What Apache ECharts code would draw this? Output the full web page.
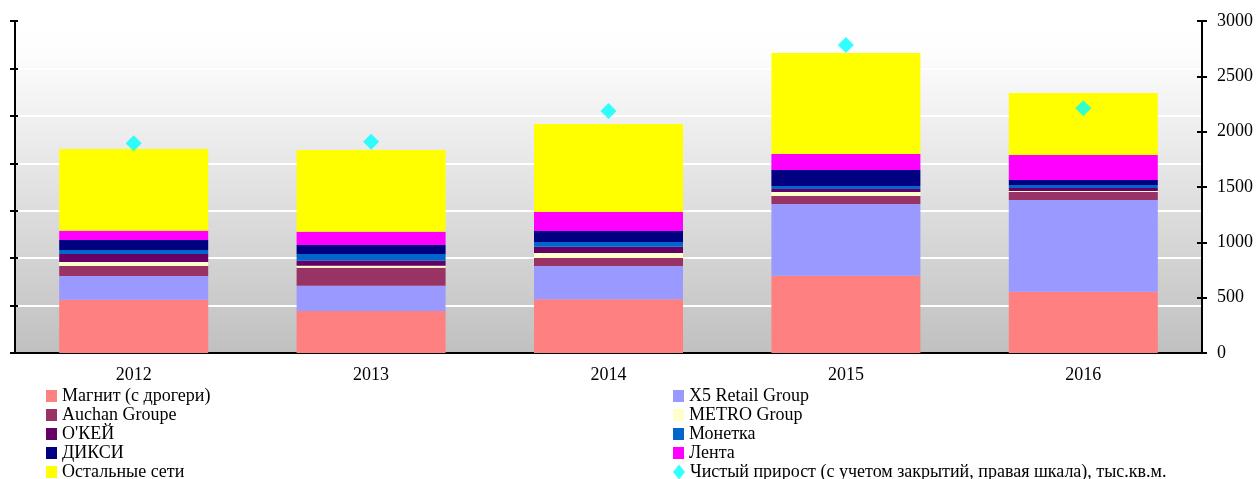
<!DOCTYPE html>
<html>
<head>
<meta charset="utf-8">
<script src="https://cdn.jsdelivr.net/npm/echarts@6/dist/echarts.min.js"></script>
<style>
  html, body { margin: 0; padding: 0; background: #fff; }
  #chart { width: 1258px; height: 479px; }
</style>
</head>
<body>
<div id="chart"></div>
<script>
// Ввод торговых площадей по сетям, тыс. кв. м
const years = ['2012', '2013', '2014', '2015', '2016']
const magnit = [562, 443, 566, 815, 646]
const x5 = [250, 267, 351, 756, 967]
const auchan = [105, 189, 84, 84, 84]
const metro = [42, 21, 53, 42, 11]
const okey = [85, 53, 67, 32, 31]
const monetka = [42, 71, 49, 31, 32]
const dixy = [105, 95, 116, 169, 53]
const lenta = [98, 140, 200, 169, 263]
const others = [862, 861, 928, 1065, 654]
const netGrowth = [1895, 1909, 2187, 2783, 2211]
const rightTicks = [0, 500, 1000, 1500, 2000, 2500, 3000]

const netName = 'Чистый прирост (с учетом закрытий, правая шкала), тыс.кв.м.'
const leftLegend = ['Магнит (с дрогери)', 'Auchan Groupe', "О'КЕЙ", 'ДИКСИ', 'Остальные сети']
const rightLegend = ['X5 Retail Group', 'METRO Group', 'Монетка', 'Лента', netName]

const font = 'Liberation Serif'
const chart = echarts.init(document.getElementById('chart'))

function bar(name, data, color) {
    return {
        name: name,
        type: 'bar',
        stack: 'total',
        data: data,
        barWidth: 149,
        itemStyle: { color: color },
    }
}

// одна легенда на строку, чтобы колонки не переносились
function legendItem(name, left, row) {
    const isNet = name === netName
    return {
        left: left,
        top: 387 + row * 19,
        itemWidth: isNet ? 12 : 11,
        itemHeight: isNet ? 15 : 12,
        padding: 0,
        textStyle: { fontFamily: font, fontSize: 18, color: '#000' },
        data: [{ name: name, icon: isNet ? 'diamond' : 'rect' }],
    }
}

const legends = []
leftLegend.forEach((n, i) => legends.push(legendItem(n, 46, i)))
rightLegend.forEach((n, i) => legends.push(legendItem(n, 673, i)))

const option = {
    animation: false,
    backgroundColor: '#fff',
    grid: {
        left: 15,
        right: 56,
        top: 21,
        bottom: 126,
        show: true,
        borderWidth: 0,
        backgroundColor: new echarts.graphic.LinearGradient(0, 0, 0, 1, [
            { offset: 0, color: '#ffffff' },
            { offset: 0.1, color: '#fdfdfd' },
            { offset: 1, color: '#c0c0c0' },
        ]),
    },
    legend: legends,
    xAxis: {
        type: 'category',
        data: years,
        axisLine: { lineStyle: { color: '#000', width: 2 } },
        axisTick: { length: 6, lineStyle: { color: '#000', width: 2 } },
        axisLabel: { fontFamily: font, fontSize: 18, color: '#000', margin: 13 },
    },
    yAxis: [
        {
            type: 'value',
            position: 'left',
            min: 0,
            max: 3500,
            interval: 500,
            axisLine: { show: true, lineStyle: { color: '#000', width: 2 } },
            axisTick: { show: true, length: 5, lineStyle: { color: '#000', width: 2 } },
            axisLabel: { show: false },
            splitLine: { show: true, lineStyle: { color: '#ffffff', width: 2 } },
        },
        {
            type: 'value',
            position: 'right',
            min: 0,
            max: 3000,
            interval: 500,
            axisLine: { show: true, lineStyle: { color: '#000', width: 2 } },
            axisTick: { show: true, length: 5, lineStyle: { color: '#000', width: 2 } },
            axisLabel: {
                fontFamily: font, fontSize: 18, color: '#000', margin: 15,
                formatter: v => rightTicks.includes(v) ? String(v) : '',
            },
            splitLine: { show: false },
        },
        // засечки внутрь для левой и правой шкал
        {
            type: 'value',
            position: 'left',
            min: 0,
            max: 3500,
            interval: 500,
            axisLine: { show: false },
            axisTick: { show: true, inside: true, length: 3, lineStyle: { color: '#000', width: 2 } },
            axisLabel: { show: false },
            splitLine: { show: false },
        },
        {
            type: 'value',
            position: 'right',
            min: 0,
            max: 3000,
            interval: 500,
            axisLine: { show: false },
            axisTick: { show: true, inside: true, length: 5, lineStyle: { color: '#000', width: 2 } },
            axisLabel: { show: false },
            splitLine: { show: false },
        },
    ],
    series: [
        bar('Магнит (с дрогери)', magnit, '#FF8080'),
        bar('X5 Retail Group', x5, '#9999FF'),
        bar('Auchan Groupe', auchan, '#993366'),
        bar('METRO Group', metro, '#FFFFCC'),
        bar("О'КЕЙ", okey, '#660066'),
        bar('Монетка', monetka, '#0066CC'),
        bar('ДИКСИ', dixy, '#000080'),
        bar('Лента', lenta, '#FF00FF'),
        bar('Остальные сети', others, '#FFFF00'),
        {
            name: netName,
            type: 'scatter',
            yAxisIndex: 1,
            data: netGrowth,
            symbol: 'diamond',
            symbolSize: 16,
            z: 5,
            itemStyle: { color: '#00FFFF' },
        },
    ],
}
chart.setOption(option)
window.addEventListener('resize', () => chart.resize())
</script>
</body>
</html>
